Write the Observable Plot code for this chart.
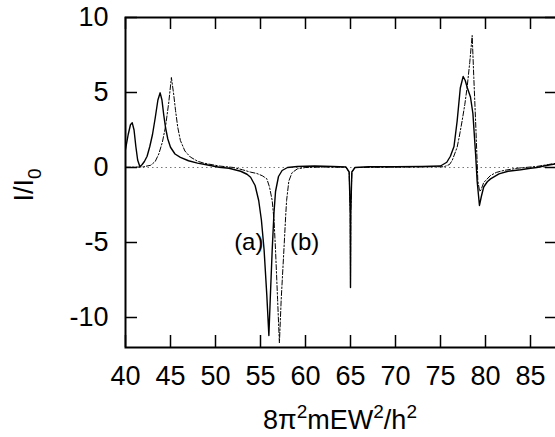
<!DOCTYPE html>
<html><head><meta charset="utf-8">
<script src="https://cdn.jsdelivr.net/npm/d3@7"></script>
<script src="https://cdn.jsdelivr.net/npm/@observablehq/plot@0.6"></script>
<style>
html,body{margin:0;padding:0;overflow:hidden;background:#fff}
svg{font-family:"Liberation Sans",Arial,Helvetica,sans-serif}
</style>
</head><body><div id="chart"></div>
<script>
// Curve (a): solid
const xA = [40.0,40.3,40.55,40.75,40.95,41.15,41.35,41.6,41.85,42.1,42.4,42.7,43.0,43.3,43.6,43.85,44.05,44.25,44.45,44.7,45.0,45.5,46.1,47.0,48.0,49.0,50.4,51.5,52.8,53.5,53.9,54.4,54.8,55.1,55.4,55.7,55.93,56.1,56.3,56.5,56.67,57.0,57.4,58.0,59.1,61,63,64.5,64.85,64.97,65.0,65.03,65.15,65.5,67,70,73,75,75.7,76.1,76.5,76.85,77.2,77.52,77.75,77.96,78.33,78.6,78.9,79.07,79.33,79.55,79.8,80.2,80.56,81.5,82.5,83.9,85.0,85.7,86.5,87.2,88];
const yA = [1.2,2.2,2.85,2.98,2.5,1.4,0.5,0.05,0.2,0.4,0.75,1.4,2.2,3.3,4.5,4.98,4.5,3.5,2.65,1.9,1.35,0.9,0.68,0.45,0.29,0.18,0.02,-0.05,-0.25,-0.45,-0.65,-1.2,-2.2,-3.5,-5.5,-8.5,-11.2,-8.5,-5.5,-3.0,-1.6,-0.6,-0.2,0.0,0.07,0.1,0.07,0.03,-0.3,-3,-8,-3,-0.3,0.0,0.05,0.05,0.07,0.1,0.35,0.75,1.4,3.1,5.3,6.07,5.8,5.35,4.7,3.6,0.9,-0.9,-2.53,-1.9,-1.3,-0.95,-0.76,-0.42,-0.25,-0.15,-0.05,0.0,0.1,0.18,0.25];
// Curve (b): dash-dot
const xB = [40.0,41.0,42.0,42.8,43.3,43.7,44.1,44.44,44.8,45.1,45.35,45.56,45.8,46.1,46.6,47.2,48.0,48.7,50.4,52.0,53.0,53.9,54.6,55.2,55.7,56.0,56.3,56.5,56.67,56.9,57.1,57.3,57.6,57.8,57.9,58.15,58.5,59.1,60,62,64.5,64.85,64.97,65.0,65.03,65.15,65.5,70,74,75.4,76.0,76.3,76.85,77.1,77.4,77.7,77.96,78.25,78.52,78.7,78.9,79.15,79.35,79.5,79.8,80.56,81.2,82.0,83.5,85.7,87.0,88];
const yB = [0.02,0.02,0.05,0.15,0.4,0.9,1.7,2.7,4.3,6.0,4.9,3.8,2.7,1.8,1.1,0.7,0.42,0.29,0.1,0.0,-0.15,-0.31,-0.4,-0.55,-0.75,-1.3,-2.2,-3.5,-5.5,-8.8,-11.7,-8.8,-5.5,-3.2,-2.2,-0.9,-0.35,-0.09,0.0,0.03,0.02,-0.3,-3,-8,-3,-0.3,0.0,0.03,0.05,0.05,0.2,0.47,1.35,2.1,3.1,4.2,5.35,7.0,8.8,6.0,3.1,-0.9,-1.6,-1.5,-1.0,-0.53,-0.33,-0.2,-0.05,0.07,0.2,0.3];

const xTicks = [40,45,50,55,60,65,70,75,80,85];
const yTicks = [-10,-5,0,5,10];
const curveLabels = ["(a)","(b)"];
const labelX = [53.7,59.9];
const labelY = [-5,-5];

const dataA = xA.map((x,i)=>({x, y:yA[i]}));
const dataB = xB.map((x,i)=>({x, y:yB[i]}));
const labelData = curveLabels.map((t,i)=>({t, x:labelX[i], y:labelY[i]}));

const W = 555, H = 437, ML = 125, MR = -2, MT = 17, MB = 90;
const pw = W - ML - MR, ph = H - MT - MB, tk = 12;

const svg = Plot.plot({
  width: W, height: H,
  marginLeft: ML, marginRight: MR, marginTop: MT, marginBottom: MB,
  x: {domain: [40, 88]},
  y: {domain: [-12, 10]},
  style: {fontFamily: '"Liberation Sans",Arial,sans-serif', fontSize: "27px", color: "black", background: "white"},
  marks: [
    Plot.ruleY([0], {stroke: "#777", strokeWidth: 1, strokeDasharray: "1.5,3"}),
    Plot.line(dataB, {x: "x", y: "y", stroke: "black", strokeWidth: 1, strokeDasharray: "5,2,1.5,2", clip: true}),
    Plot.line(dataA, {x: "x", y: "y", stroke: "black", strokeWidth: 1.4, clip: true}),
    Plot.ruleX(xTicks, {x: d => d, insetTop: ph - tk, strokeWidth: 1.5}),
    Plot.ruleX(xTicks, {x: d => d, insetBottom: ph - tk, strokeWidth: 1.5}),
    Plot.ruleY(yTicks, {y: d => d, insetRight: pw - tk, strokeWidth: 1.5}),
    Plot.ruleY(yTicks, {y: d => d, insetLeft: pw - tk, strokeWidth: 1.5}),
    Plot.frame({stroke: "black", strokeWidth: 2}),
    Plot.axisX({ticks: xTicks, tickSize: 0, tickPadding: 18, label: null, tickFormat: d => String(d), fontSize: 27}),
    Plot.axisY({ticks: yTicks, tickSize: 0, tickPadding: 17, label: null, tickFormat: d => String(d), fontSize: 27}),
    Plot.text(labelData, {x: "x", y: "y", text: "t", fontSize: 24, fill: "black"})
  ]
});

const s = d3.select(svg);
const xt = s.append("text").attr("x", ML + 215).attr("y", 429).attr("text-anchor", "middle")
  .attr("font-size", 27).attr("fill", "black");
xt.append("tspan").text("8π");
xt.append("tspan").attr("dy", -11).attr("font-size", 19).text("2");
xt.append("tspan").attr("dy", 11).text("mEW");
xt.append("tspan").attr("dy", -11).attr("font-size", 19).text("2");
xt.append("tspan").attr("dy", 11).text("/h");
xt.append("tspan").attr("dy", -11).attr("font-size", 19).text("2");

const yt = s.append("text").attr("transform", "translate(33,185) rotate(-90)").attr("text-anchor", "middle")
  .attr("font-size", 27).attr("fill", "black");
yt.append("tspan").text("I/I");
yt.append("tspan").attr("dy", 8).attr("font-size", 19).text("0");

document.getElementById("chart").appendChild(svg);
</script>
</body></html>
